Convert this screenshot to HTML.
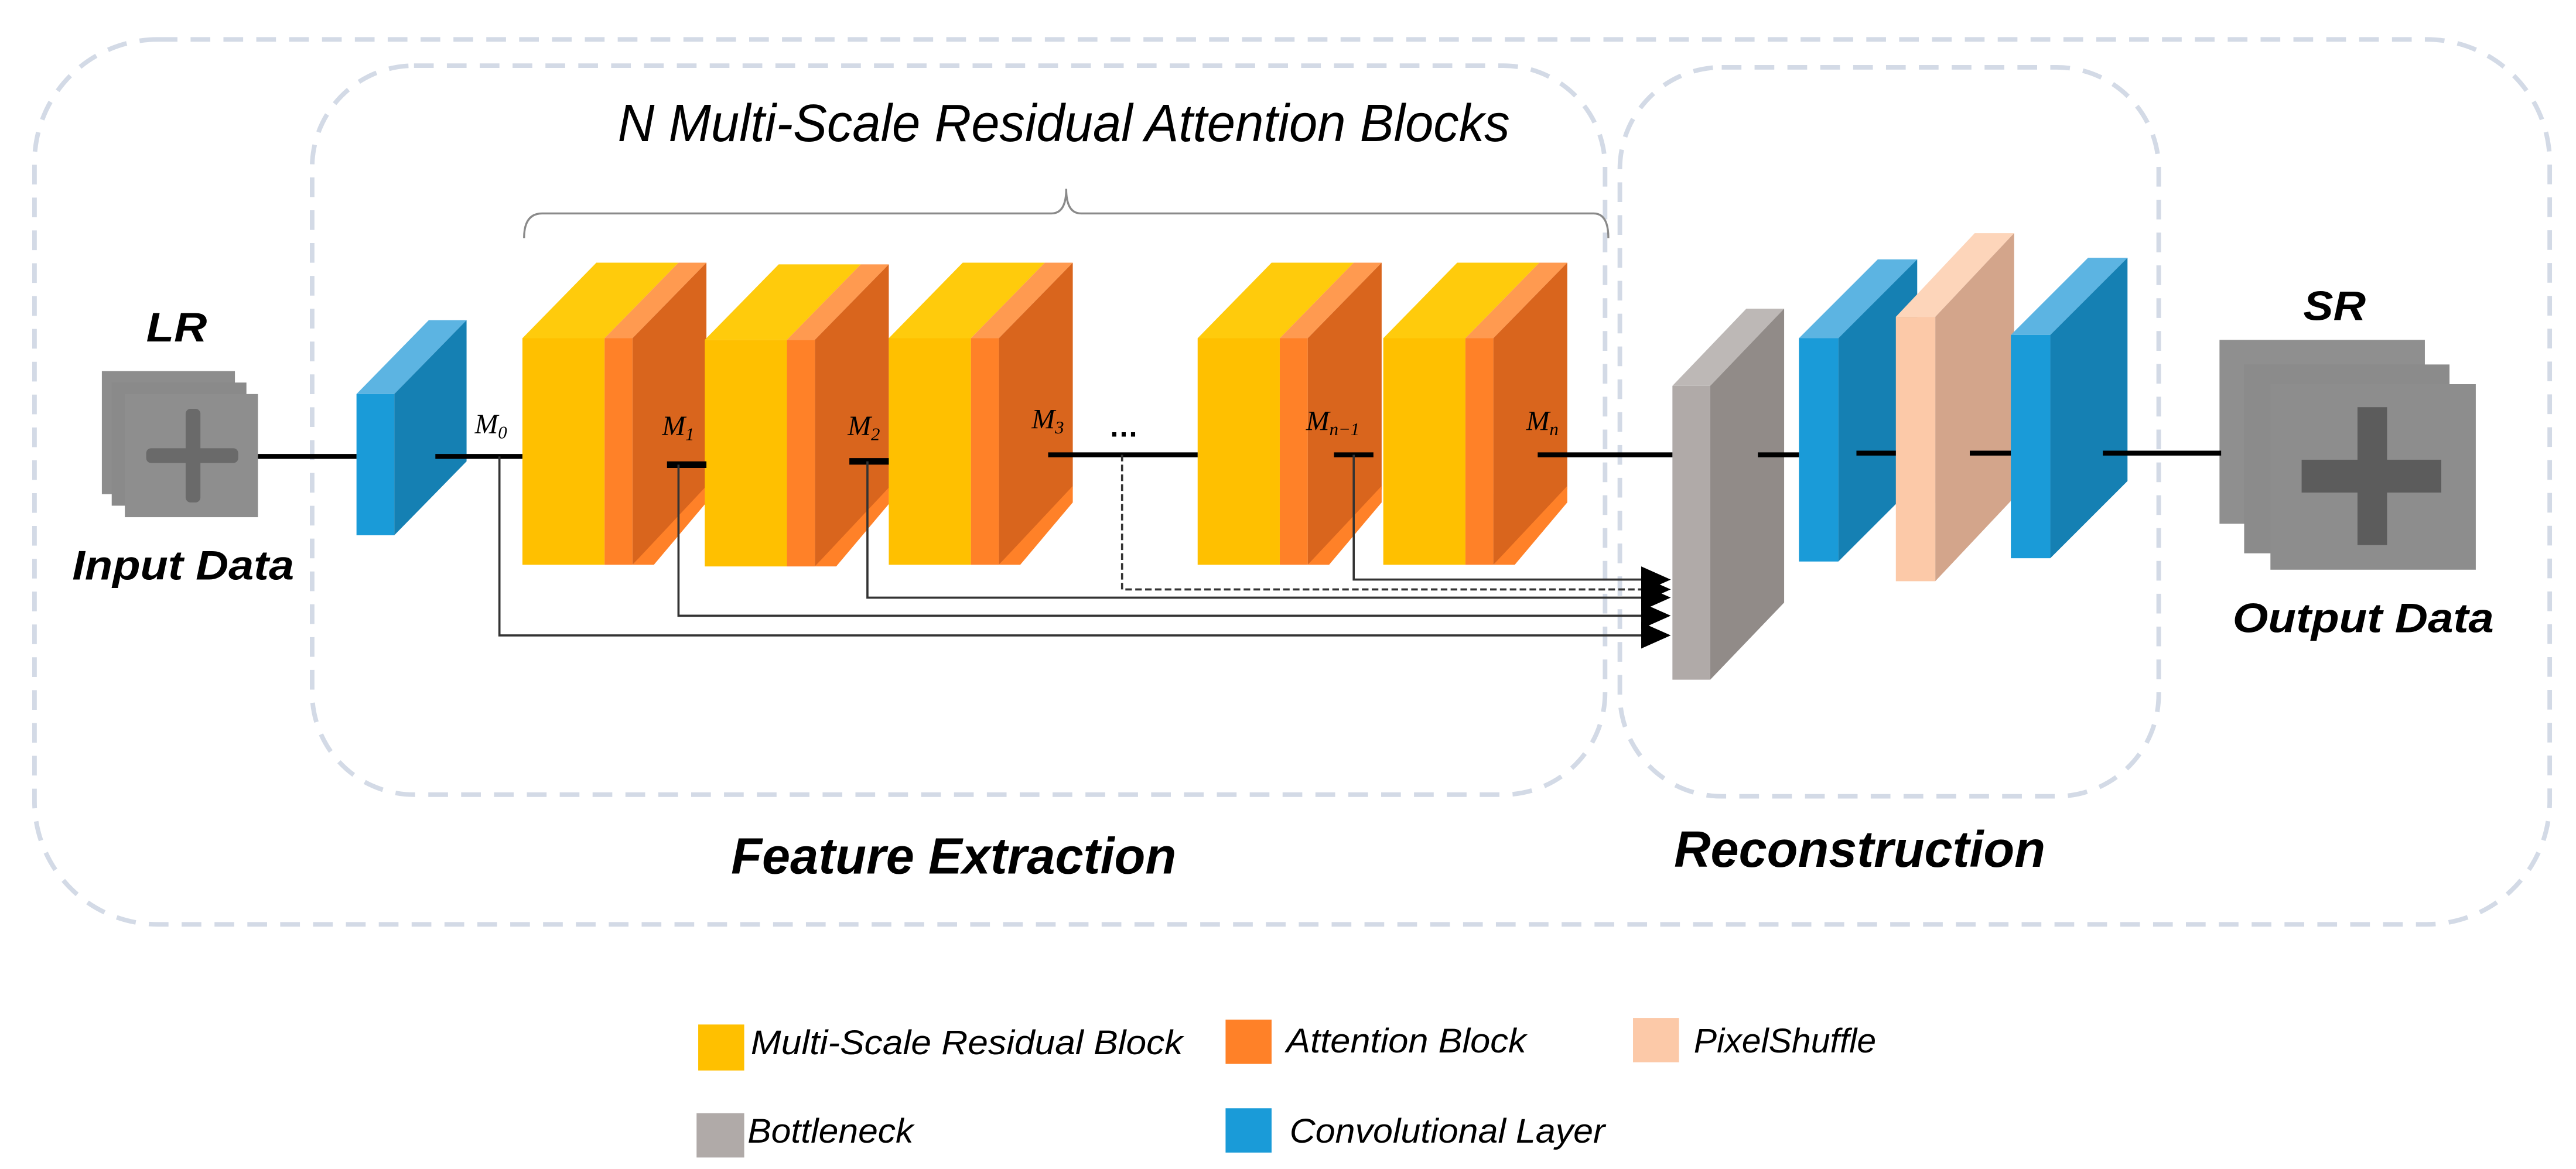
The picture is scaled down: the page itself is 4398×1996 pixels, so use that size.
<!DOCTYPE html>
<html><head><meta charset="utf-8"><style>
html,body{margin:0;padding:0;background:#fff;}
svg{display:block;}
.lab{font-family:"Liberation Sans",sans-serif;font-style:italic;font-weight:bold;fill:#000;}
.leg{font-family:"Liberation Sans",sans-serif;font-style:italic;fill:#000;font-size:21px;}
.m{font-family:"Liberation Serif",serif;font-style:italic;font-size:17px;fill:#000;}
.s{font-size:11px;}
</style></head><body>
<svg width="4398" height="1996" viewBox="0 0 1568 712" preserveAspectRatio="none" xmlns="http://www.w3.org/2000/svg">
<rect width="1568" height="712" fill="#fff"/>
<g fill="none" stroke="#d3dae6" stroke-width="2.8" stroke-dasharray="12 8">
<rect x="21" y="24" width="1531" height="539" rx="75"/>
<rect x="190" y="40" width="787" height="444" rx="62"/>
<rect x="986" y="41" width="328" height="444" rx="62"/>
</g>
<text class="lab" x="376" y="86" font-size="32" style="font-weight:normal" textLength="543" lengthAdjust="spacingAndGlyphs">N Multi-Scale Residual Attention Blocks</text>
<path d="M319,145 Q319,130 330,130 L640,130 Q649,130 649,115 Q649,130 658,130 L970,130 Q979,130 979,145" fill="none" stroke="#8a8a8a" stroke-width="1.2"/>
<rect x="62" y="226" width="81" height="75" fill="#8d8d8d"/>
<rect x="68" y="233" width="82" height="75" fill="#8a8a8a"/>
<rect x="76" y="240" width="81" height="75" fill="#8e8e8e"/>
<rect x="89" y="273" width="56" height="9" fill="#6a6a6a" rx="3"/>
<rect x="113" y="249" width="9" height="57" fill="#6a6a6a" rx="3"/>
<text class="lab" x="89" y="208" font-size="25" textLength="37" lengthAdjust="spacingAndGlyphs">LR</text>
<text class="lab" x="44" y="353" font-size="25" textLength="135" lengthAdjust="spacingAndGlyphs">Input Data</text>
<polygon points="217,240 261,195 284,195 240,240" fill="#5cb4e2"/>
<polygon points="240,240 284,195 284,281 240,326" fill="#1580b3"/>
<rect x="217" y="240" width="23" height="86" fill="#1a9bd8"/>
<g id="b1">
<polygon points="318,206 363,160 413,160 368,206" fill="#ffcb0c"/>
<rect x="318" y="206" width="50" height="138" fill="#ffc000"/>
<polygon points="368,206 413,160 430,160 385,206" fill="#ff9a50"/>
<polygon points="385,206 430,160 430,298 385,344" fill="#d9651d"/>
<polygon points="385,344 398,344 430,306 430,296" fill="#ff8128"/>
<rect x="368" y="206" width="17" height="138" fill="#ff8128"/>
</g>
<use href="#b1" transform="translate(111,1)"/>
<use href="#b1" transform="translate(223,0)"/>
<use href="#b1" transform="translate(411,0)"/>
<use href="#b1" transform="translate(524,0)"/>
<polygon points="1018,235 1063,188 1086,188 1041,235" fill="#bdb8b6"/>
<polygon points="1041,235 1086,188 1086,367 1041,414" fill="#918b88"/>
<rect x="1018" y="235" width="23" height="179" fill="#b0aaa8"/>
<polygon points="1095,206 1143,158 1167,158 1119,206" fill="#5cb4e2"/>
<polygon points="1119,206 1167,158 1167,294 1119,342" fill="#1580b3"/>
<rect x="1095" y="206" width="24" height="136" fill="#1a9bd8"/>
<polygon points="1154,193 1202,142 1226,142 1178,193" fill="#fdd5ba"/>
<polygon points="1178,193 1226,142 1226,303 1178,354" fill="#d3a58b"/>
<rect x="1154" y="193" width="24" height="161" fill="#fcc9a8"/>
<polygon points="1224,204 1271,157 1295,157 1248,204" fill="#5cb4e2"/>
<polygon points="1248,204 1295,157 1295,293 1248,340" fill="#1580b3"/>
<rect x="1224" y="204" width="24" height="136" fill="#1a9bd8"/>
<rect x="1351" y="207" width="125" height="112" fill="#8f8f8f"/>
<rect x="1366" y="222" width="125" height="115" fill="#8b8b8b"/>
<rect x="1382" y="234" width="125" height="113" fill="#8d8d8d"/>
<rect x="1401" y="280" width="85" height="20" fill="#5c5c5c"/>
<rect x="1435" y="248" width="18" height="84" fill="#5c5c5c"/>
<text class="lab" x="1402" y="195" font-size="25" textLength="38" lengthAdjust="spacingAndGlyphs">SR</text>
<text class="lab" x="1359" y="385" font-size="25" textLength="159" lengthAdjust="spacingAndGlyphs">Output Data</text>
<g stroke="#000" stroke-width="3">
<line x1="157" y1="278" x2="217" y2="278"/>
<line x1="265" y1="278" x2="318" y2="278"/>
<line x1="406" y1="283" x2="430" y2="283" stroke-width="4"/>
<line x1="517" y1="281" x2="541" y2="281" stroke-width="4"/>
<line x1="638" y1="277" x2="729" y2="277"/>
<line x1="812" y1="277" x2="836" y2="277"/>
<line x1="936" y1="277" x2="1018" y2="277"/>
<line x1="1070" y1="277" x2="1095" y2="277"/>
<line x1="1130" y1="276" x2="1154" y2="276"/>
<line x1="1199" y1="276" x2="1224" y2="276"/>
<line x1="1280" y1="276" x2="1352" y2="276"/>
</g>
<g fill="none" stroke="#333" stroke-width="1.3">
<polyline points="304,278 304,387 1002,387"/>
<polyline points="413,283 413,375 1002,375"/>
<polyline points="528,281 528,364 1002,364"/>
<polyline points="683,277 683,359 1002,359" stroke-dasharray="4 2"/>
<polyline points="824,277 824,353 1002,353"/>
</g>
<g fill="#000">
<polygon points="999,345 1017,353 999,361"/>
<polygon points="999,351 1017,359 999,367"/>
<polygon points="999,356 1017,364 999,372"/>
<polygon points="999,367 1017,375 999,383"/>
<polygon points="999,379 1017,387 999,395"/>
</g>
<text class="m" x="289" y="264">M<tspan class="s" dy="3">0</tspan></text>
<text class="m" x="403" y="265">M<tspan class="s" dy="3">1</tspan></text>
<text class="m" x="516" y="265">M<tspan class="s" dy="3">2</tspan></text>
<text class="m" x="628" y="261">M<tspan class="s" dy="3">3</tspan></text>
<text x="675" y="266" font-family="Liberation Sans" font-size="18" font-weight="bold">…</text>
<text class="m" x="795" y="262">M<tspan class="s" dy="3">n−1</tspan></text>
<text class="m" x="929" y="262">M<tspan class="s" dy="3">n</tspan></text>
<text class="lab" x="445" y="532" font-size="31" textLength="271" lengthAdjust="spacingAndGlyphs">Feature Extraction</text>
<text class="lab" x="1019" y="528" font-size="31" textLength="226" lengthAdjust="spacingAndGlyphs">Reconstruction</text>
<rect x="425" y="624" width="28" height="28" fill="#ffc000"/>
<text class="leg" x="457" y="642" textLength="263" lengthAdjust="spacingAndGlyphs">Multi-Scale Residual  Block</text>
<rect x="746" y="621" width="28" height="27" fill="#ff8128"/>
<text class="leg" x="783" y="641" textLength="146" lengthAdjust="spacingAndGlyphs">Attention Block</text>
<rect x="994" y="620" width="28" height="27" fill="#fcc9a8"/>
<text class="leg" x="1031" y="641" textLength="111" lengthAdjust="spacingAndGlyphs">PixelShuffle</text>
<rect x="424" y="678" width="29" height="27" fill="#b0aaa8"/>
<text class="leg" x="455" y="696" textLength="101" lengthAdjust="spacingAndGlyphs">Bottleneck</text>
<rect x="746" y="675" width="28" height="27" fill="#1a9bd8"/>
<text class="leg" x="785" y="696" textLength="192" lengthAdjust="spacingAndGlyphs">Convolutional Layer</text>
</svg>
</body></html>
